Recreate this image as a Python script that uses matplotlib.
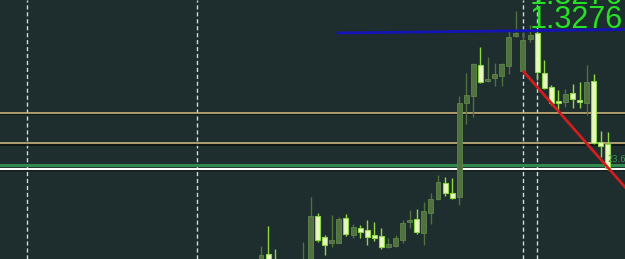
import matplotlib
matplotlib.use("Agg")
import matplotlib.pyplot as plt
import numpy as np

# OHLC (bar index 0..49, left to right)
opens = [1.32528, 1.32536, 1.32528, 1.32524, 1.32518, 1.32520, 1.32522, 1.32528, 1.32574, 1.32553,
         1.32547, 1.32547, 1.32572, 1.32555, 1.32562, 1.32560, 1.32555, 1.32554, 1.32543, 1.32544,
         1.32550, 1.32568, 1.32571, 1.32557, 1.32577, 1.32591, 1.32607, 1.32597, 1.32593, 1.32687,
         1.32694, 1.32725, 1.32709, 1.32712, 1.32714, 1.32724, 1.32754, 1.32719, 1.32751, 1.32757,
         1.32717, 1.32703, 1.32689, 1.32688, 1.32697, 1.32690, 1.32687, 1.32709, 1.32648, 1.32646]
highs = [1.32544, 1.32564, 1.32541, 1.32528, 1.32525, 1.32526, 1.32548, 1.32593, 1.32577, 1.32555,
         1.32575, 1.32573, 1.32576, 1.32566, 1.32565, 1.32570, 1.32568, 1.32562, 1.32552, 1.32555,
         1.32570, 1.32580, 1.32581, 1.32588, 1.32597, 1.32615, 1.32613, 1.32612, 1.32694, 1.32717,
         1.32727, 1.32743, 1.32733, 1.32727, 1.32727, 1.32759, 1.32779, 1.32758, 1.32765, 1.32759,
         1.32730, 1.32705, 1.32700, 1.32701, 1.32706, 1.32708, 1.32725, 1.32716, 1.32659, 1.32658]
lows = [1.32525, 1.32525, 1.32518, 1.32515, 1.32510, 1.32514, 1.32518, 1.32524, 1.32548, 1.32535,
        1.32543, 1.32547, 1.32554, 1.32552, 1.32552, 1.32545, 1.32549, 1.32541, 1.32542, 1.32543,
        1.32547, 1.32562, 1.32556, 1.32545, 1.32566, 1.32590, 1.32594, 1.32591, 1.32585, 1.32666,
        1.32673, 1.32707, 1.32708, 1.32704, 1.32704, 1.32716, 1.32753, 1.32718, 1.32748, 1.32710,
        1.32701, 1.32685, 1.32677, 1.32683, 1.32682, 1.32682, 1.32675, 1.32646, 1.32633, 1.32620]
closes = [1.32535, 1.32529, 1.32522, 1.32518, 1.32520, 1.32522, 1.32528, 1.32574, 1.32550, 1.32545,
          1.32550, 1.32571, 1.32556, 1.32563, 1.32558, 1.32553, 1.32552, 1.32543, 1.32546, 1.32552,
          1.32567, 1.32570, 1.32558, 1.32579, 1.32591, 1.32608, 1.32597, 1.32592, 1.32687, 1.32695,
          1.32726, 1.32708, 1.32711, 1.32716, 1.32726, 1.32753, 1.32757, 1.32750, 1.32755, 1.32718,
          1.32702, 1.32687, 1.32687, 1.32696, 1.32691, 1.32688, 1.32708, 1.32647, 1.32644, 1.32622]

# chart objects
levels_tan = [1.326773, 1.326467]
level_green = 1.326253
level_white = 1.326213
trend_blue = ([10.9, 51.4], [1.32757, 1.327605])
trend_red = ([37.15, 51.4], [1.32718, 1.32603])
separators = [-33, -9, 37, 39]
price_label = "1.3276"
fibo_label = "23.6"

bg = "#1e2d2e"
up_color = "#51723f"
down_fill = "#e8f6bf"
down_edge = "#8fd845"

fig = plt.figure(figsize=(6.25, 2.59), dpi=100, facecolor=bg)
ax = fig.add_axes([0, 0, 1, 1])
ax.set_facecolor(bg)
ax.set_xlim(-36.86, 51.41)
ax.set_ylim(1.32531, 1.32790)
ax.axis("off")

for x in separators:
    ax.axvline(x, color="#d2dada", lw=1, ls=(0, (3, 2)), zorder=1)

for y in levels_tan:
    ax.axhline(y - 0.000012, color="#0d1410", lw=1.2, zorder=2)
    ax.axhline(y, color="#c6b27a", lw=1.2, zorder=2)
ax.axhline(level_green, color="#2f8a4c", lw=2.2, zorder=2)
ax.axhline(level_white - 0.000012, color="#0d1410", lw=1, zorder=2)
ax.axhline(level_white, color="white", lw=1.5, zorder=2)

idx = np.arange(len(opens))
o = np.array(opens)
h = np.array(highs)
l = np.array(lows)
c = np.array(closes)
up = c >= o

ax.vlines(idx[up], l[up], h[up], color=up_color, lw=1, zorder=3)
ax.vlines(idx[~up], l[~up], h[~up], color=down_edge, lw=1, zorder=3)
body_lo = np.minimum(o, c)
body_h = np.maximum(np.abs(c - o), 0.000015)
ax.bar(idx[up], body_h[up], bottom=body_lo[up], width=0.7,
       color=up_color, edgecolor="#5f854c", lw=0.6, zorder=4)
ax.bar(idx[~up], body_h[~up], bottom=body_lo[~up], width=0.7,
       color=down_fill, edgecolor=down_edge, lw=0.8, zorder=4)

ax.plot(*trend_blue, color="#1414b4", lw=2, zorder=5)
ax.plot(*trend_red, color="#d01e1e", lw=2, zorder=5)

ax.text(0.996, 1.0 - 4 / 259, price_label, transform=ax.transAxes, ha="right", va="baseline",
        fontsize=22, color="#28e028", family="Liberation Sans", zorder=6)
ax.text(0.996, 1.0 - 28.5 / 259, price_label, transform=ax.transAxes, ha="right", va="baseline",
        fontsize=22, color="#28e028", family="Liberation Sans", zorder=6)
ax.text(0.972, 1.0 - 162 / 259, fibo_label, transform=ax.transAxes, ha="left", va="baseline",
        fontsize=6, color="#3a9a55", zorder=6)

fig.savefig("out.png", dpi=100, facecolor=bg)
